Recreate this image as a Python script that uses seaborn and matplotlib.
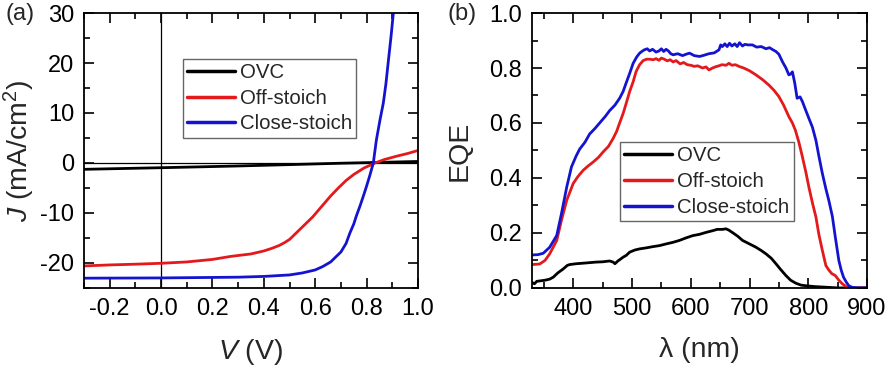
import numpy as np
import pandas as pd
import matplotlib
matplotlib.use("Agg")
import matplotlib.pyplot as plt
from matplotlib.ticker import MultipleLocator
import seaborn as sns

# ---------------- data: panel (a) J-V ----------------
V_ovc = [-0.3, 0.0, 0.3, 0.5, 0.7, 0.85, 1.0]
J_ovc = [-1.27, -0.95, -0.6, -0.33, -0.05, 0.12, 0.3]

V_off = [-0.3, -0.2, -0.1, 0.0, 0.1, 0.2, 0.27, 0.35, 0.40, 0.43, 0.46, 0.48, 0.5,
         0.53, 0.56, 0.59, 0.62, 0.66, 0.69, 0.72, 0.75, 0.79, 0.833, 0.87, 0.92,
         0.96, 1.0]
J_off = [-20.6, -20.4, -20.25, -20.07, -19.8, -19.3, -18.7, -18.2, -17.6, -17.1,
         -16.5, -15.95, -15.3, -13.8, -12.3, -10.8, -9.0, -6.6, -5.0, -3.5, -2.3,
         -1.0, 0.0, 0.7, 1.4, 1.9, 2.5]

V_close = [-0.3, 0.0, 0.3, 0.4, 0.5, 0.55, 0.6, 0.63, 0.66, 0.70, 0.72, 0.735,
           0.75, 0.76, 0.775, 0.79, 0.80, 0.813, 0.826, 0.838, 0.852, 0.865,
           0.875, 0.885, 0.895, 0.904, 0.92]
J_close = [-23.05, -23.0, -22.85, -22.7, -22.4, -22.0, -21.4, -20.7, -19.8, -17.8,
           -16.1, -14.0, -12.2, -10.6, -8.5, -6.2, -4.6, -2.4, 0.0, 4.6, 8.6, 12.0,
           15.8, 20.6, 25.3, 30.0, 38.0]

# ---------------- data: panel (b) EQE ----------------
wl_close = [330, 340, 349, 360, 372, 380, 389, 397, 405, 411, 420, 428, 437, 445, 455,
            462, 471, 479, 485, 490, 496, 502, 508, 513, 518, 521, 526, 530, 535, 541,
            546, 550, 554, 558, 562, 566, 570, 578, 586, 592, 598, 606, 615, 622, 631,
            640, 648, 651, 654, 658, 662, 666, 670, 675, 679, 683, 688, 692, 697, 705,
            712, 720, 728, 734, 740, 745, 750, 756, 762, 767, 770, 773, 777, 781, 786,
            790, 795, 801, 807, 813, 818, 824, 830, 835, 841, 846, 852, 856, 860, 865,
            869, 875, 885, 900]
eqe_close = [0.120, 0.121, 0.126, 0.148, 0.191, 0.27, 0.367, 0.44, 0.48, 0.505, 0.53,
             0.56, 0.58, 0.60, 0.625, 0.645, 0.665, 0.69, 0.715, 0.745, 0.78, 0.817,
             0.84, 0.854, 0.862, 0.866, 0.870, 0.862, 0.868, 0.858, 0.862, 0.870,
             0.860, 0.868, 0.862, 0.852, 0.848, 0.852, 0.845, 0.850, 0.854, 0.845,
             0.842, 0.846, 0.852, 0.855, 0.866, 0.884, 0.878, 0.888, 0.878, 0.890,
             0.880, 0.888, 0.878, 0.892, 0.880, 0.886, 0.884, 0.884, 0.876, 0.878,
             0.870, 0.874, 0.866, 0.860, 0.850, 0.823, 0.800, 0.775, 0.778, 0.786,
             0.745, 0.69, 0.695, 0.678, 0.650, 0.617, 0.585, 0.537, 0.48, 0.416,
             0.36, 0.318, 0.26, 0.185, 0.10, 0.065, 0.039, 0.02, 0.008, 0.002, 0.0, 0.0]

wl_off = [330, 343, 352, 360, 372, 380, 389, 400, 408, 417, 425, 434, 443, 451, 460,
          468, 474, 479, 485, 490, 496, 502, 507, 513, 519, 525, 530, 536, 541, 546,
          550, 555, 560, 565, 570, 575, 582, 588, 594, 600, 606, 612, 620, 626, 631,
          637, 643, 648, 653, 660, 665, 670, 676, 682, 690, 700, 711, 722, 733, 742,
          750, 758, 767, 773, 778, 784, 790, 796, 801, 807, 813, 818, 824, 830, 835,
          840, 846, 852, 858, 866, 880, 900]
eqe_off = [0.085, 0.087, 0.10, 0.124, 0.173, 0.246, 0.319, 0.38, 0.405, 0.428, 0.443,
           0.458, 0.475, 0.495, 0.515, 0.544, 0.57, 0.60, 0.635, 0.67, 0.714, 0.75,
           0.787, 0.812, 0.827, 0.832, 0.832, 0.830, 0.834, 0.828, 0.836, 0.832,
           0.826, 0.830, 0.822, 0.827, 0.815, 0.820, 0.812, 0.810, 0.806, 0.808,
           0.800, 0.804, 0.793, 0.800, 0.805, 0.808, 0.812, 0.810, 0.817, 0.810,
           0.812, 0.806, 0.800, 0.790, 0.775, 0.758, 0.738, 0.718, 0.696, 0.665,
           0.623, 0.60, 0.574, 0.53, 0.477, 0.42, 0.367, 0.31, 0.258, 0.195, 0.136,
           0.081, 0.065, 0.052, 0.045, 0.028, 0.015, 0.002, 0.0, 0.0]

wl_ovc = [330, 334, 338, 345, 352, 360, 366, 374, 383, 390, 394, 405, 417, 428, 439,
          450, 462, 468, 471, 476, 480, 485, 490, 496, 505, 513, 525, 535, 547, 558,
          570, 581, 592, 603, 615, 626, 637, 645, 654, 660, 665, 672, 680, 688, 700,
          711, 720, 728, 737, 745, 753, 762, 770, 779, 788, 796, 810, 835, 850, 900]
eqe_ovc = [0.020, 0.015, 0.024, 0.026, 0.028, 0.032, 0.039, 0.055, 0.069, 0.082,
           0.085, 0.088, 0.090, 0.092, 0.094, 0.095, 0.098, 0.094, 0.088, 0.098,
           0.104, 0.112, 0.118, 0.130, 0.138, 0.142, 0.146, 0.150, 0.154, 0.160,
           0.166, 0.173, 0.182, 0.190, 0.195, 0.202, 0.208, 0.213, 0.213, 0.215,
           0.210, 0.200, 0.188, 0.173, 0.160, 0.148, 0.136, 0.124, 0.108, 0.088,
           0.067, 0.045, 0.028, 0.017, 0.010, 0.008, 0.005, 0.002, 0.0, 0.0]

labels = ["OVC", "Off-stoich", "Close-stoich"]
colors = ["#000000", "#E3191C", "#1414D0"]

# ---------------- style ----------------
sns.set_theme(style="ticks")
plt.rcParams["font.family"] = ["Liberation Sans", "DejaVu Sans"]
plt.rcParams["mathtext.fontset"] = "custom"
plt.rcParams["mathtext.rm"] = "Liberation Sans"
plt.rcParams["mathtext.it"] = "Liberation Sans:italic"
plt.rcParams["axes.unicode_minus"] = False

fig = plt.figure(figsize=(8.89, 3.72), dpi=100)
ax1 = fig.add_axes([0.0945, 0.226, 0.3757, 0.739])
ax2 = fig.add_axes([0.5985, 0.226, 0.3768, 0.739])

lw = 2.0
jv = [(V_ovc, J_ovc), (V_off, J_off), (V_close, J_close)]
for (x, y), lab, c in zip(jv, labels, colors):
    df = pd.DataFrame({"x": x, "y": y})
    sns.lineplot(data=df, x="x", y="y", ax=ax1, color=c, lw=lw, label=lab,
                 sort=False, estimator=None)
ax1.axhline(0, color="black", lw=0.9, zorder=0)
ax1.axvline(0, color="black", lw=0.9, zorder=0)

eq = [(wl_ovc, eqe_ovc), (wl_off, eqe_off), (wl_close, eqe_close)]
for (x, y), lab, c in zip(eq, labels, colors):
    df = pd.DataFrame({"x": x, "y": y})
    sns.lineplot(data=df, x="x", y="y", ax=ax2, color=c, lw=lw, label=lab,
                 sort=False, estimator=None)

ax1.set_xlim(-0.3, 1.0)
ax1.set_ylim(-25, 30)
ax1.xaxis.set_minor_locator(MultipleLocator(0.1))
ax1.yaxis.set_minor_locator(MultipleLocator(5))
ax1.set_xticks([-0.2, 0.0, 0.2, 0.4, 0.6, 0.8, 1.0])
ax1.set_xticklabels(["-0.2", "0.0", "0.2", "0.4", "0.6", "0.8", "1.0"])
ax1.set_yticks([-20, -10, 0, 10, 20, 30])
ax1.set_yticklabels(["-20", "-10", "0", "10", "20", "30"])
ax1.set_xlabel(r"$V$ (V)", fontsize=20.5)
ax1.set_ylabel(r"$J$ (mA/cm$^2$)", fontsize=20.5)

ax2.set_xlim(330, 900)
ax2.set_ylim(0, 1.0)
ax2.xaxis.set_minor_locator(MultipleLocator(50))
ax2.yaxis.set_minor_locator(MultipleLocator(0.1))
ax2.set_xticks([400, 500, 600, 700, 800, 900])
ax2.set_yticks([0.0, 0.2, 0.4, 0.6, 0.8, 1.0])
ax2.set_yticklabels(["0.0", "0.2", "0.4", "0.6", "0.8", "1.0"])
ax2.set_xlabel("λ (nm)", fontsize=20.5)
ax2.set_ylabel("EQE", fontsize=20.5)

for ax in (ax1, ax2):
    for s in ax.spines.values():
        s.set_linewidth(1.3)
        s.set_color("black")
        s.set_visible(True)
    ax.tick_params(which="both", direction="in", top=True, right=True,
                   width=1.2, colors="black", labelsize=17)
    ax.tick_params(which="major", length=7, pad=7)
    ax.tick_params(which="minor", length=4)
    ax.set_facecolor("white")

leg_kw = dict(fontsize=14.7, frameon=True, fancybox=False, edgecolor="#666666",
              framealpha=1, handlelength=2.35, handletextpad=0.25,
              labelspacing=0.33, borderpad=0.2, borderaxespad=0, loc="upper left")
l1 = ax1.legend(bbox_to_anchor=(0.296, 0.833), **leg_kw)
l2 = ax2.legend(bbox_to_anchor=(0.263, 0.53), **leg_kw)
for l in (l1, l2):
    l.get_frame().set_linewidth(1.0)
    for h in l.legend_handles:
        h.set_linewidth(2.5)

ax1.yaxis.set_label_coords(-0.14, 0.5)
ax2.yaxis.set_label_coords(-0.178, 0.5)
ax1.xaxis.set_label_coords(0.5, -0.18)
ax2.xaxis.set_label_coords(0.5, -0.18)

fig.text(0.006, 0.962, "(a)", fontsize=17, va="center", ha="left")
fig.text(0.503, 0.962, "(b)", fontsize=17, va="center", ha="left")

fig.savefig("out.png", dpi=100, facecolor="white")
